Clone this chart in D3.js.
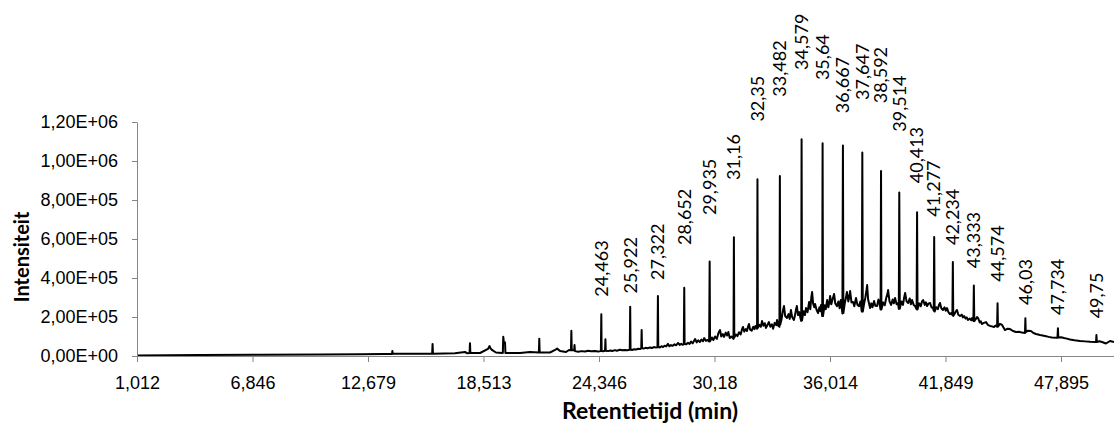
<!DOCTYPE html>
<html>
<head>
<meta charset="utf-8">
<script src="https://cdn.jsdelivr.net/npm/d3@7"></script>
<style>
  html, body { margin: 0; padding: 0; background: #fff; }
  svg { display: block; font-family: Lato, "Open Sans", sans-serif; }
</style>
</head>
<body>
<svg id="chart" width="1114" height="432"></svg>
<script>
// category labels shown on the time axis (min)
const xTicks = [1.012, 6.846, 12.679, 18.513, 24.346, 30.18, 36.014, 41.849, 47.895];
const yTicks = [0, 200000, 400000, 600000, 800000, 1000000, 1200000];

// chromatogram trace: [retention time (min), intensity]
const trace = [
  [1.012, 2600], [4.19, 5100], [7.22, 6200], [10.26, 7700], [12.28, 8700], [13.54, 10300],
  [13.89, 10000], [13.91, 26000], [13.93, 11000],
  [15.31, 11300], [15.92, 12000], [15.94, 62000], [15.96, 12000],
  [17.07, 13800], [17.58, 20500], [17.7, 14000], [17.81, 15000], [17.83, 66000], [17.85, 15000],
  [18.34, 15400], [18.74, 36000], [18.82, 51000], [18.86, 40000], [18.94, 31000], [19.14, 18000],
  [19.45, 15400], [19.49, 16000], [19.51, 99000], [19.54, 73000], [19.6, 70000], [19.62, 16000],
  [20.36, 15400], [20.86, 20500], [21.31, 18000], [21.33, 89000], [21.35, 18000],
  [21.87, 18000], [22.13, 31000], [22.23, 38000], [22.38, 26000], [22.68, 20500],
  [22.83, 31000], [22.93, 30000], [22.95, 130000], [22.97, 30000], [23.09, 30000], [23.11, 56000], [23.13, 25000],
  [23.3, 22000], [23.45, 25000], [23.64, 23000], [23.8, 27000], [23.95, 24000], [24.14, 26000], [24.3, 23000],
  [24.44, 25000], [24.463, 214000], [24.48, 26000], [24.55, 24000], [24.65, 27000], [24.67, 86000], [24.69, 27000],
  [24.8, 25000], [24.92, 28000], [25.02, 26000], [25.15, 30000], [25.25, 27000], [25.4, 32000], [25.52, 29000],
  [25.65, 31000], [25.78, 30000], [25.9, 32000], [25.922, 253000], [25.94, 33000],
  [26.02, 31000], [26.12, 35000], [26.22, 33000], [26.33, 37000], [26.43, 36000], [26.48, 40000], [26.5, 133000], [26.52, 41000],
  [26.6, 38000], [26.7, 42000], [26.8, 40000], [26.92, 44000], [27.02, 41000], [27.12, 46000], [27.22, 43000],
  [27.3, 45000], [27.322, 308000], [27.34, 46000],
  [27.42, 44000], [27.5, 50000], [27.58, 46000], [27.66, 53000], [27.74, 49000], [27.83, 62000], [27.9, 50000],
  [27.98, 56000], [28.06, 52000], [28.16, 60000], [28.24, 55000], [28.34, 67000], [28.42, 57000], [28.5, 63000],
  [28.56, 58000], [28.63, 60000], [28.652, 350000], [28.67, 62000],
  [28.76, 60000], [28.84, 68000], [28.92, 62000], [29.0, 74000], [29.08, 65000], [29.2, 87000], [29.28, 70000],
  [29.36, 80000], [29.44, 72000], [29.52, 84000], [29.6, 76000], [29.66, 92000], [29.74, 78000], [29.82, 82000],
  [29.91, 74000], [29.935, 484000], [29.955, 76000],
  [30.05, 95000], [30.12, 82000], [30.21, 100000], [30.3, 88000], [30.38, 118000], [30.46, 133000], [30.52, 100000],
  [30.6, 112000], [30.66, 98000], [30.75, 120000], [30.82, 105000], [30.88, 123000], [30.95, 92000], [31.04, 100000],
  [31.14, 88000], [31.16, 609000], [31.18, 95000],
  [31.26, 110000], [31.34, 102000], [31.42, 122000], [31.5, 110000], [31.58, 140000], [31.62, 149000], [31.68, 125000],
  [31.76, 138000], [31.82, 128000], [31.88, 152000], [31.92, 164000], [31.98, 135000], [32.06, 130000], [32.14, 150000],
  [32.2, 138000], [32.25, 154000], [32.33, 140000], [32.35, 906000], [32.37, 145000],
  [32.44, 160000], [32.52, 150000], [32.58, 179000], [32.65, 155000], [32.72, 168000], [32.78, 144000], [32.86, 160000],
  [32.93, 174000], [33.0, 150000], [33.08, 162000], [33.14, 140000], [33.22, 170000], [33.3, 158000], [33.34, 185000],
  [33.4, 155000], [33.46, 150000], [33.482, 923000], [33.5, 160000],
  [33.57, 190000], [33.63, 230000], [33.69, 256000], [33.75, 205000], [33.84, 195000], [33.92, 215000], [33.98, 190000],
  [34.04, 236000], [34.1, 200000], [34.19, 185000], [34.26, 215000], [34.3, 240000], [34.34, 256000], [34.4, 210000],
  [34.46, 225000], [34.52, 195000], [34.56, 180000], [34.579, 1111000], [34.6, 182000],
  [34.68, 230000], [34.75, 210000], [34.8, 246000], [34.88, 225000], [34.96, 277000], [35.02, 240000], [35.07, 300000],
  [35.11, 328000], [35.16, 270000], [35.22, 250000], [35.26, 267000], [35.34, 235000], [35.41, 220000], [35.48, 250000],
  [35.53, 230000], [35.56, 262000], [35.62, 205000], [35.64, 1091000], [35.66, 205000],
  [35.74, 260000], [35.8, 240000], [35.87, 287000], [35.93, 250000], [35.98, 275000], [36.02, 308000], [36.08, 265000],
  [36.14, 290000], [36.22, 318000], [36.28, 270000], [36.37, 256000], [36.44, 280000], [36.5, 245000], [36.56, 287000],
  [36.64, 218000], [36.667, 1079000], [36.69, 220000],
  [36.76, 270000], [36.82, 300000], [36.87, 328000], [36.94, 280000], [37.0, 310000], [37.03, 333000], [37.1, 275000],
  [37.18, 277000], [37.24, 255000], [37.33, 297000], [37.4, 262000], [37.48, 256000], [37.55, 280000],
  [37.62, 228000], [37.647, 1043000], [37.67, 228000],
  [37.74, 270000], [37.8, 300000], [37.86, 340000], [37.89, 364000], [37.94, 290000], [38.04, 246000], [38.1, 270000],
  [38.16, 250000], [38.24, 282000], [38.3, 258000], [38.39, 256000], [38.46, 290000], [38.52, 265000],
  [38.57, 238000], [38.592, 949000], [38.61, 238000],
  [38.7, 275000], [38.78, 260000], [38.86, 300000], [38.92, 320000], [38.95, 338000], [39.02, 280000], [39.1, 262000],
  [39.18, 290000], [39.24, 270000], [39.3, 297000], [39.38, 265000], [39.45, 272000],
  [39.49, 242000], [39.514, 839000], [39.54, 242000],
  [39.62, 280000], [39.7, 262000], [39.76, 300000], [39.81, 323000], [39.88, 280000], [39.96, 272000], [40.04, 295000],
  [40.1, 265000], [40.16, 287000], [40.24, 262000], [40.31, 256000],
  [40.39, 240000], [40.413, 737000], [40.435, 238000],
  [40.52, 270000], [40.6, 255000], [40.66, 280000], [40.72, 287000], [40.8, 262000], [40.86, 275000], [40.92, 256000],
  [41.0, 270000], [41.07, 272000], [41.14, 250000], [41.22, 246000],
  [41.255, 232000], [41.277, 610000], [41.3, 228000],
  [41.38, 250000], [41.46, 240000], [41.52, 262000], [41.57, 272000], [41.64, 245000], [41.72, 236000], [41.8, 250000],
  [41.86, 232000], [41.93, 246000], [42.0, 225000], [42.08, 215000], [42.15, 220000],
  [42.21, 210000], [42.234, 482000], [42.255, 205000],
  [42.32, 215000], [42.4, 230000], [42.45, 236000], [42.52, 212000], [42.61, 205000], [42.7, 212000], [42.76, 198000],
  [42.82, 205000], [42.9, 192000], [42.96, 198000], [43.03, 185000], [43.12, 192000], [43.2, 183000], [43.24, 195000],
  [43.31, 180000], [43.333, 361000], [43.355, 178000],
  [43.44, 190000], [43.5, 200000], [43.55, 195000], [43.64, 172000], [43.7, 178000], [43.76, 164000], [43.86, 170000],
  [43.97, 174000], [44.06, 160000], [44.18, 154000], [44.28, 152000], [44.39, 149000], [44.46, 156000],
  [44.55, 150000], [44.574, 270000], [44.595, 150000],
  [44.7, 165000], [44.81, 159000], [44.96, 133000], [45.1, 140000], [45.23, 138000], [45.38, 128000], [45.54, 123000],
  [45.7, 124000], [45.85, 120000], [46.01, 118000], [46.03, 193000], [46.05, 122000],
  [46.15, 130000], [46.32, 128000], [46.45, 118000], [46.59, 113000], [46.8, 108000], [47.06, 103000], [47.25, 98000],
  [47.42, 95000], [47.71, 93000], [47.734, 142000], [47.755, 95000],
  [47.9, 96000], [48.05, 92000], [48.2, 89000], [48.37, 85000], [48.6, 81000], [48.89, 77000], [49.15, 75000],
  [49.41, 73000], [49.73, 72000], [49.75, 108000], [49.77, 72000],
  [49.9, 76000], [50.04, 72000], [50.25, 64000], [50.46, 77000], [50.67, 72000]
];

// labelled peaks and the intensity level where each label starts
const peakTimes = [24.463, 25.922, 27.322, 28.652, 29.935, 31.16, 32.35, 33.482, 34.579, 35.64, 36.667,
  37.647, 38.592, 39.514, 40.413, 41.277, 42.234, 43.333, 44.574, 46.03, 47.734, 49.75];
const labelLevels = [304000, 321000, 390000, 569000, 723000, 903000, 1202000, 1330000, 1467000, 1415000, 1245000,
  1313000, 1296000, 1150000, 886000, 714000, 569000, 450000, 381000, 262000, 210000, 193000];

const svg = d3.select("#chart");
const plotLeft = 137, plotTop = 122, plotBottom = 356;
const axisColor = "#868686";

// category axis: labels are evenly spaced
const step = (1061 - plotLeft) / (xTicks.length - 1);
const x = d3.scaleLinear()
  .domain(xTicks)
  .range(xTicks.map((d, i) => plotLeft + i * step));
const tEnd = trace[trace.length - 1][0];
x.domain([...xTicks, tEnd]).range([...x.range(), x(tEnd)]);

const y = d3.scaleLinear()
  .domain([0, 1200000])
  .range([plotBottom, plotTop]);

const comma = d => String(d).replace(".", ",");
const sci = d => {
  const [m, e] = d.toExponential(2).split("e");
  return m.replace(".", ",") + "E" + (e[0] === "-" ? "-" : "+") + String(Math.abs(+e)).padStart(2, "0");
};

const line = d3.line()
  .x(d => x(d[0]))
  .y(d => y(d[1]));

svg.append("path")
  .datum(trace)
  .attr("fill", "none")
  .attr("stroke", "#000")
  .attr("stroke-width", 2)
  .attr("stroke-linejoin", "round")
  .attr("d", line);

// x axis
const xAxis = svg.append("g")
  .attr("transform", `translate(0,${plotBottom})`)
  .call(d3.axisBottom(x).tickValues(xTicks).tickFormat(comma).tickSize(6).tickSizeOuter(0).tickPadding(14));
xAxis.select(".domain").attr("stroke", axisColor);
xAxis.selectAll(".tick line").attr("stroke", axisColor);
xAxis.selectAll(".tick text")
  .attr("fill", "#000")
  .style("font-size", "18px");

// y axis
const yAxis = svg.append("g")
  .attr("transform", `translate(${plotLeft},0)`)
  .call(d3.axisLeft(y).tickValues(yTicks).tickFormat(sci).tickSize(5).tickSizeOuter(0).tickPadding(14));
yAxis.select(".domain").attr("stroke", axisColor);
yAxis.selectAll(".tick line").attr("stroke", axisColor);
yAxis.selectAll(".tick text")
  .attr("fill", "#000")
  .style("font-size", "18px");

// peak labels
svg.append("g")
  .selectAll("text")
  .data(peakTimes)
  .join("text")
  .attr("transform", (d, i) => `translate(${x(d)},${y(labelLevels[i])}) rotate(-90)`)
  .attr("dy", "0.35em")
  .attr("fill", "#000")
  .style("font-size", "18px")
  .text(comma);

// axis titles
svg.append("text")
  .attr("x", 650)
  .attr("y", 419)
  .attr("text-anchor", "middle")
  .style("font-size", "23px")
  .style("font-weight", "bold")
  .text("Retentietijd (min)");

svg.append("text")
  .attr("transform", "translate(22,257) rotate(-90)")
  .attr("text-anchor", "middle")
  .attr("dy", "0.35em")
  .style("font-size", "20px")
  .style("font-weight", "bold")
  .text("Intensiteit");
</script>
</body>
</html>
